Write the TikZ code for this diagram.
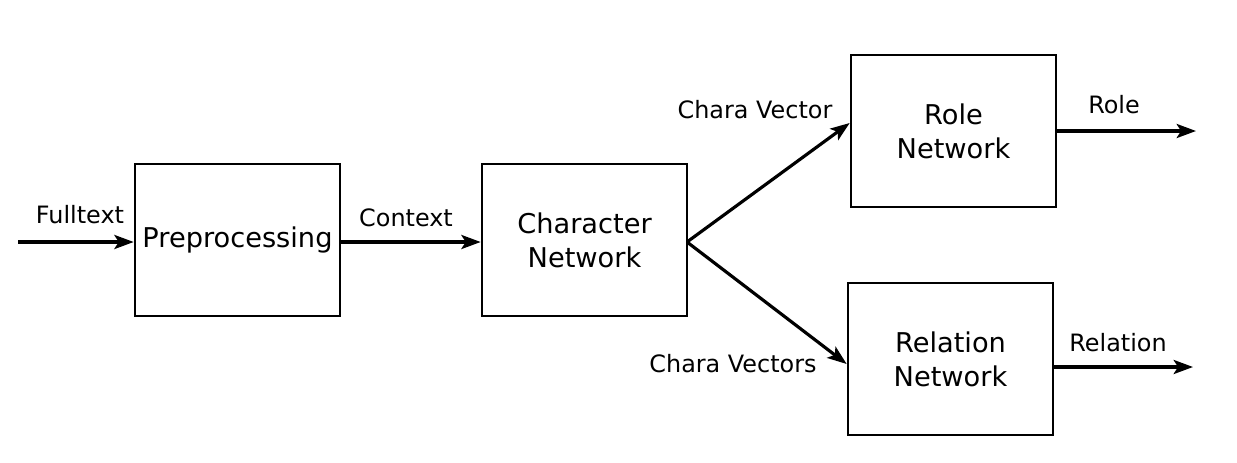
\documentclass[tikz,border=0pt]{standalone}
\usepackage{fontspec}
\setmainfont{DejaVu Sans}
\usetikzlibrary{arrows.meta}
\begin{document}
\begin{tikzpicture}[x=0.02cm,y=-0.02cm,
  blk/.style={draw,line width=1.5pt,minimum width=205*0.02cm,minimum height=152*0.02cm,inner sep=0pt,align=center,font=\fontsize{15.5}{19.3}\selectfont},
  lbl/.style={font=\fontsize{13.6}{16}\selectfont,inner sep=0pt},
  arr/.style={line width=1.8pt,-{Stealth[length=11pt,width=8pt,inset=2.5pt]}}]
\useasboundingbox (0,0) rectangle (1237,463);
\node[blk] (pre) at (237.5,240) {\raisebox{-1pt}{Preprocessing}};
\node[blk] (cha) at (584.5,240) {Character\\Network};
\node[blk] (rol) at (953.5,131) {Role\\Network};
\node[blk] (rel) at (950.5,359) {Relation\\Network};
\coordinate (in) at (18,242);
\coordinate (rolout) at (1196,131);
\coordinate (relout) at (1193,367);
\coordinate (split) at (687,242);
\draw[arr] (in) -- (pre.west |- in);
\draw[arr] (pre.east |- in) -- (cha.west |- in);
\draw[arr] (split) -- (rol.west |- 0,123);
\draw[arr] (split) -- (rel.west |- 0,364);
\draw[arr] (rol.east |- rolout) -- (rolout);
\draw[arr] (rel.east |- relout) -- (relout);
\node[lbl] (l1) at (80,215) {Fulltext};
\node[lbl] (l2) at (406,218) {Context};
\node[lbl] (l3) at (755,110) {Chara Vector};
\node[lbl] (l4) at (733,364) {Chara Vectors};
\node[lbl] (l5) at (1114,105) {Role};
\node[lbl] (l6) at (1118,343) {Relation};
\end{tikzpicture}
\end{document}
